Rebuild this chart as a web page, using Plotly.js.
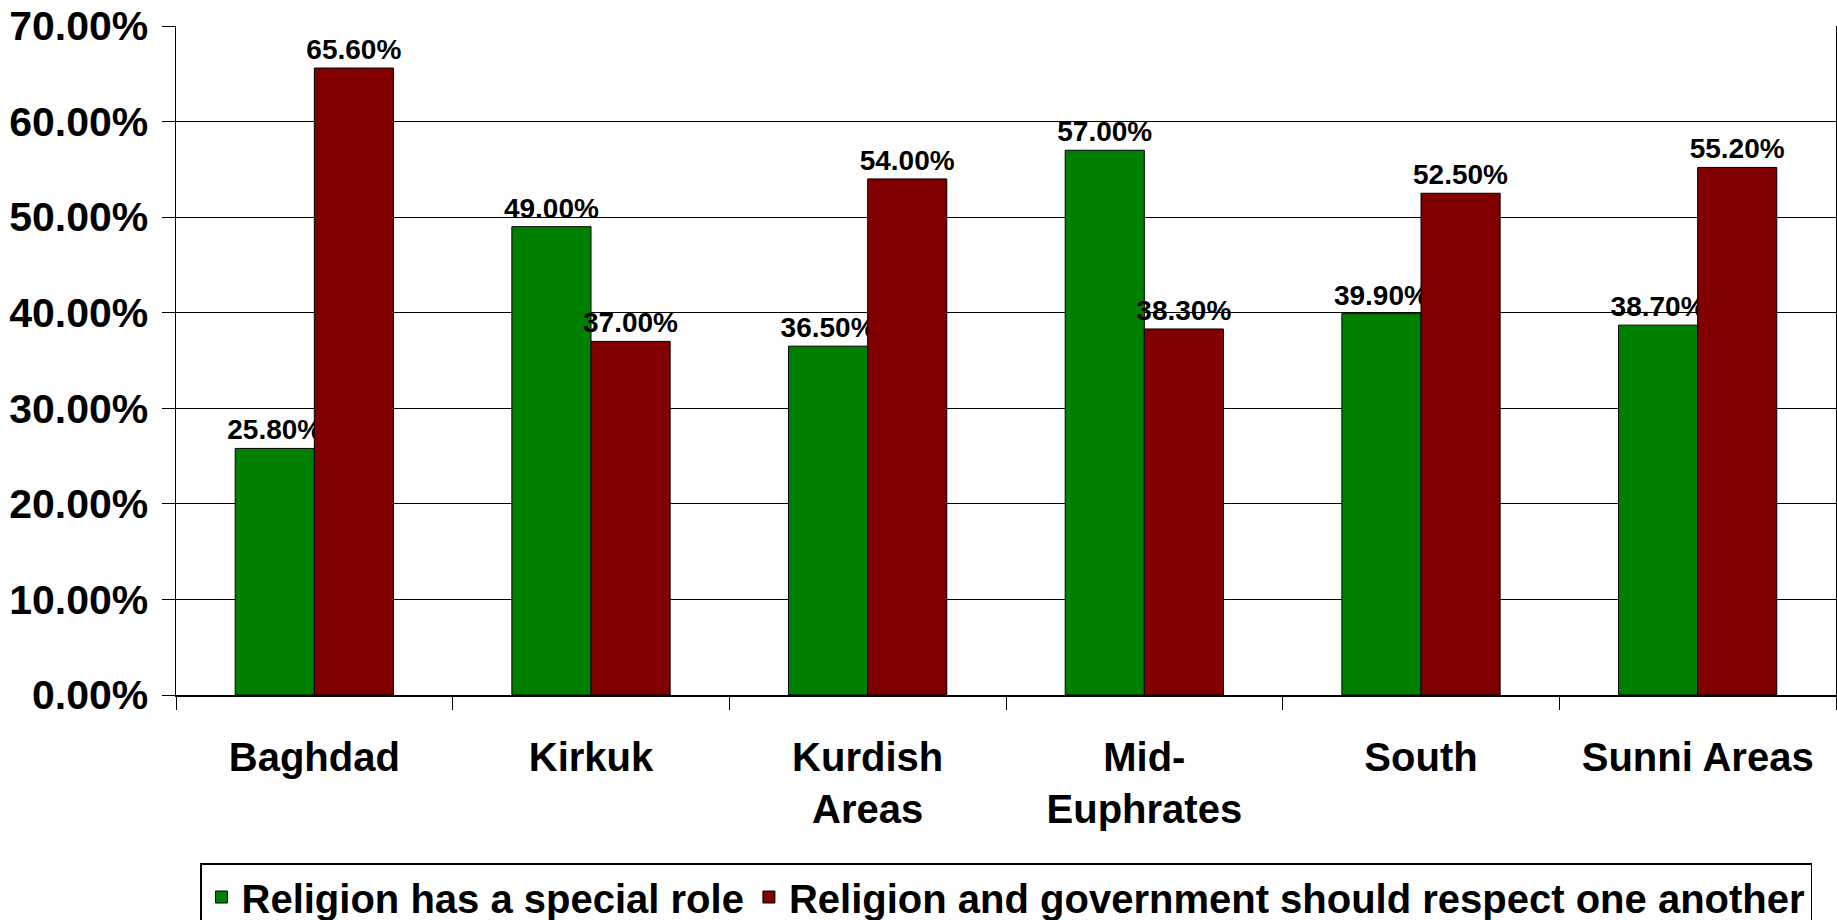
<!DOCTYPE html>
<html>
<head>
<meta charset="utf-8">
<script src="https://cdn.plot.ly/plotly-3.0.1.min.js"></script>
<style>
html,body{margin:0;padding:0;background:#fff;}
#chart{width:1837px;height:920px;}
</style>
</head>
<body>
<div id="chart"></div>
<script>
const categories = ["Baghdad", "Kirkuk", "Kurdish<br>Areas", "Mid-<br>Euphrates", "South", "Sunni Areas"];
const seriesNames = ["Religion has a special role", "Religion and government should respect one another"];
const specialRole = [0.258, 0.490, 0.365, 0.570, 0.399, 0.387];
const respectEachOther = [0.656, 0.370, 0.540, 0.383, 0.525, 0.552];
const yTickVals = [0, 0.1, 0.2, 0.3, 0.4, 0.5, 0.6, 0.7];

const FONT = "Liberation Sans, Arial, Helvetica, sans-serif";

function barTrace(name, vals, color) {
  return {
    type: "bar",
    name: name,
    x: categories,
    y: vals,
    marker: {color: color, line: {color: "#000", width: 1}},
    texttemplate: "%{y:.2%}",
    textposition: "outside",
    cliponaxis: false,
    constraintext: "none",
    textfont: {family: FONT, size: 28, color: "#000", weight: "bold"},
    hoverinfo: "skip"
  };
}

const data = [
  barTrace(seriesNames[0], specialRole, "#008000"),
  barTrace(seriesNames[1], respectEachOther, "#800000")
];

const layout = {
  width: 1837,
  height: 920,
  margin: {l: 176, r: 1, t: 26, b: 225},
  paper_bgcolor: "#fff",
  plot_bgcolor: "#fff",
  barmode: "group",
  bargap: 0.428,
  bargroupgap: 0,
  font: {family: FONT, color: "#000"},
  showlegend: true,
  legend: {
    orientation: "h",
    xref: "paper",
    x: 0.5, xanchor: "center",
    yref: "container",
    y: 1 - 863 / 920, yanchor: "top",
    bordercolor: "#000",
    borderwidth: 1.5,
    font: {family: FONT, size: 40, color: "#000", weight: "bold"},
    traceorder: "normal",
    itemwidth: 30
  },
  xaxis: {
    type: "category",
    showline: true,
    linecolor: "#000",
    linewidth: 2,
    ticks: "outside",
    tickson: "boundaries",
    ticklen: 13,
    tickcolor: "#000",
    tickwidth: 1,
    ticklabelstandoff: 26,
    tickfont: {family: FONT, size: 40, color: "#000", weight: "bold"},
    showgrid: false,
    zeroline: false,
    fixedrange: true
  },
  yaxis: {
    range: [0, 0.7],
    tickvals: yTickVals,
    tickformat: ".2%",
    showline: true,
    mirror: true,
    linecolor: "#000",
    linewidth: 1.5,
    ticks: "outside",
    ticklen: 13,
    tickcolor: "#000",
    tickwidth: 1,
    ticklabelstandoff: 5,
    tickfont: {family: FONT, size: 41, color: "#000", weight: "bold"},
    showgrid: true,
    gridcolor: "#000",
    gridwidth: 1,
    zeroline: false,
    fixedrange: true
  }
};

Plotly.newPlot("chart", data, layout, {displayModeBar: false, staticPlot: true});
</script>
</body>
</html>
